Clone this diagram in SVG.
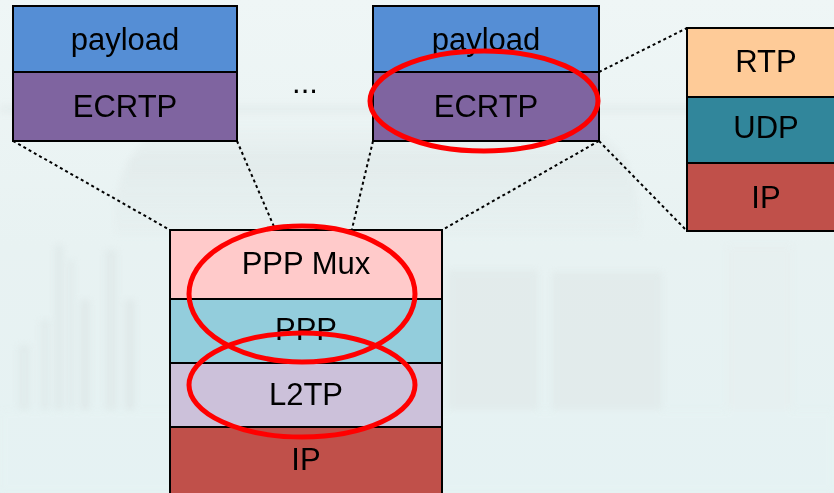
<svg xmlns="http://www.w3.org/2000/svg" width="834" height="493" viewBox="0 0 834 493">
  <defs>
    <linearGradient id="bg" x1="0" y1="0" x2="0" y2="1">
      <stop offset="0" stop-color="#EFF6F6"/>
      <stop offset="0.5" stop-color="#E8F2F2"/>
      <stop offset="1" stop-color="#E5F2F3"/>
    </linearGradient>
    <linearGradient id="jar" x1="0" y1="0" x2="0" y2="1">
      <stop offset="0" stop-color="#DCE4E4" stop-opacity="0"/>
      <stop offset="0.35" stop-color="#D6DEDE" stop-opacity="0.6"/>
      <stop offset="1" stop-color="#DDE6E6" stop-opacity="0.2"/>
    </linearGradient>
    <filter id="soft" x="-10%" y="-10%" width="120%" height="120%">
      <feGaussianBlur stdDeviation="3"/>
    </filter>
  </defs>
  <style>
    .layer { stroke: #000; stroke-width: 2; }
    .lbl { font-family: "Liberation Sans", Arial, sans-serif; font-size: 31px; fill: #000; text-anchor: middle; }
    .dots { stroke: #000; stroke-width: 2; stroke-dasharray: 3 3; fill: none; }
    .ring { fill: none; stroke: #FF0000; stroke-width: 5; }
  </style>

  <!-- faded glassware backdrop -->
  <rect width="834" height="493" fill="url(#bg)"/>
  <g filter="url(#soft)" opacity="0.55">
    <path d="M115 235 Q110 130 200 120 L560 120 Q640 130 640 235 Z" fill="url(#jar)"/>
    <rect x="0" y="105" width="700" height="8" fill="#D6DEDE" opacity="0.5"/>
    <rect x="18" y="345" width="12" height="130" fill="#DCE6E6"/>
    <rect x="40" y="320" width="10" height="160" fill="#DDE7E7"/>
    <rect x="55" y="245" width="8" height="230" fill="#DAE4E4"/>
    <rect x="68" y="260" width="6" height="220" fill="#DCE6E6"/>
    <rect x="80" y="300" width="10" height="180" fill="#DAE3E3"/>
    <rect x="105" y="250" width="12" height="230" fill="#DCE5E5"/>
    <rect x="125" y="300" width="10" height="180" fill="#DAE3E3"/>
    <rect x="448" y="270" width="90" height="140" fill="#DEE6E6"/>
    <rect x="552" y="272" width="110" height="140" fill="#DEE6E6"/>
    <rect x="727" y="245" width="65" height="165" fill="#E6EEEE"/>
    <rect x="0" y="410" width="834" height="83" fill="#E6F3F3"/>
  </g>

  <!-- dotted connectors -->
  <g id="connectors">
    <line class="dots" x1="13" y1="141" x2="170" y2="230"/>
    <line class="dots" x1="237" y1="141" x2="275" y2="229"/>
    <line class="dots" x1="373" y1="141" x2="352" y2="229"/>
    <line class="dots" x1="599" y1="141" x2="442" y2="230"/>
    <line class="dots" x1="599" y1="72" x2="687" y2="28"/>
    <line class="dots" x1="599" y1="141" x2="687" y2="231"/>
  </g>

  <!-- first ECRTP packet -->
  <g id="packet-1">
    <rect class="layer" x="13" y="6" width="224" height="66" fill="#558ED5"/>
    <rect class="layer" x="13" y="72" width="224" height="69" fill="#7F64A0"/>
    <text class="lbl" x="125" y="50">payload</text>
    <text class="lbl" x="125" y="117">ECRTP</text>
  </g>

  <g id="ellipsis">
    <text class="lbl" x="305" y="93">...</text>
  </g>

  <!-- last ECRTP packet -->
  <g id="packet-n">
    <rect class="layer" x="373" y="6" width="226" height="66" fill="#558ED5"/>
    <rect class="layer" x="373" y="72" width="226" height="69" fill="#7F64A0"/>
    <text class="lbl" x="486" y="50">payload</text>
    <text class="lbl" x="486" y="117">ECRTP</text>
  </g>

  <!-- RTP/UDP/IP stack -->
  <g id="rtp-stack">
    <rect class="layer" x="687" y="28" width="160" height="69" fill="#FECB98"/>
    <rect class="layer" x="687" y="97" width="160" height="66" fill="#31869B"/>
    <rect class="layer" x="687" y="163" width="160" height="68" fill="#C0504A"/>
    <text class="lbl" x="766" y="72">RTP</text>
    <text class="lbl" x="766" y="138">UDP</text>
    <text class="lbl" x="766" y="208">IP</text>
  </g>

  <!-- PPP Mux / PPP / L2TP / IP stack -->
  <g id="tunnel-stack">
    <rect class="layer" x="170" y="230" width="272" height="69" fill="#FFCACA"/>
    <rect class="layer" x="170" y="299" width="272" height="64" fill="#93CDDC"/>
    <rect class="layer" x="170" y="363" width="272" height="64" fill="#CCC1DA"/>
    <rect class="layer" x="170" y="427" width="272" height="70" fill="#C0504A"/>
    <text class="lbl" x="306" y="274">PPP Mux</text>
    <text class="lbl" x="306" y="340">PPP</text>
    <text class="lbl" x="306" y="405">L2TP</text>
    <text class="lbl" x="306" y="470">IP</text>
  </g>

  <!-- red highlight rings -->
  <g id="highlights">
    <ellipse class="ring" cx="484" cy="101" rx="114" ry="50"/>
    <ellipse class="ring" cx="302" cy="294" rx="113" ry="68"/>
    <ellipse class="ring" cx="302" cy="385" rx="113" ry="52"/>
  </g>
</svg>
